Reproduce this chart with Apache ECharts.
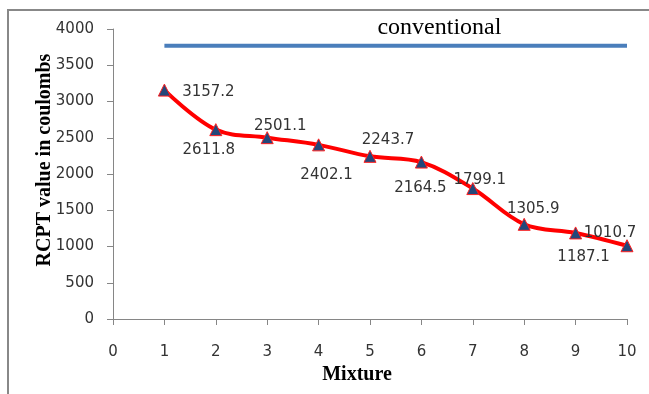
<!DOCTYPE html>
<html>
<head>
<meta charset="utf-8">
<script src="https://cdn.jsdelivr.net/npm/echarts@6/dist/echarts.min.js"></script>
<style>html,body{margin:0;padding:0;background:#fff;}#c{width:649px;height:394px;}</style>
</head>
<body>
<div id="c"></div>
<script>
const mixtures = [1, 2, 3, 4, 5, 6, 7, 8, 9, 10];
const rcptValues = [3157.2, 2611.8, 2501.1, 2402.1, 2243.7, 2164.5, 1799.1, 1305.9, 1187.1, 1010.7];
const conventionalX = [1, 10];
const conventionalValue = 3770;
const conventionalLabel = 'conventional';
const xTitle = 'Mixture';
const yTitle = 'RCPT value in coulombs';

// label placement (style only)
const labelOffsets = [[44,2],[-7,20],[13,-12],[8,30],[18,-16],[-1,26],[7,-8],[9,-15],[8,24],[-17,-13]];

const chart = echarts.init(document.getElementById('c'), null, {renderer: 'canvas'});
const labelFont = 'DejaVu Sans';
const axisCol = '#868686';

const frame = {
  type: 'polyline',
  shape: {points: [[8, 394], [8, 10], [649, 10]]},
  style: {stroke: '#888', lineWidth: 2, fill: null},
  silent: true
};
const yTitleText = {
  type: 'text',
  x: 45, y: 160, rotation: Math.PI / 2,
  style: {text: yTitle, fontFamily: 'Liberation Serif', fontWeight: 'bold', fontSize: 20, fill: '#000', align: 'center', verticalAlign: 'middle'},
  silent: true
};

const option = {
  animation: false,
  backgroundColor: '#fff',
  grid: {left: 113, right: 22, top: 29, bottom: 75},
  xAxis: {
    type: 'value', min: 0, max: 10, interval: 1,
    name: xTitle, nameLocation: 'middle', nameGap: 46,
    nameTextStyle: {fontFamily: 'Liberation Serif', fontWeight: 'bold', fontSize: 20, color: '#000', padding: [0, 26, 0, 0]},
    axisLine: {show: true, lineStyle: {color: axisCol, width: 1}},
    axisTick: {show: true, length: 6, lineStyle: {color: axisCol}},
    axisLabel: {margin: 26, fontFamily: labelFont, fontSize: 15, color: '#333', formatter: v => String(v)},
    splitLine: {show: false}
  },
  yAxis: {
    type: 'value', min: 0, max: 4000, interval: 500,
    axisLine: {show: true, lineStyle: {color: axisCol, width: 1}},
    axisTick: {show: true, length: 6, lineStyle: {color: axisCol}},
    axisLabel: {margin: 19, fontFamily: labelFont, fontSize: 15, color: '#333', formatter: v => String(v)},
    splitLine: {show: false}
  },
  series: [
    {
      type: 'line',
      data: conventionalX.map(x => [x, conventionalValue]),
      showSymbol: false,
      symbol: 'none',
      lineStyle: {color: '#4a7ebb', width: 4},
      z: 2
    },
    {
      type: 'line',
      smooth: 0.35,
      data: mixtures.map((m, i) => ({
        value: [m, rcptValues[i]],
        label: {offset: labelOffsets[i]}
      })),
      symbol: 'triangle',
      symbolSize: 12,
      itemStyle: {color: '#23477a', borderColor: '#ff2020', borderWidth: 1},
      lineStyle: {color: '#ff0000', width: 4},
      label: {
        show: true, position: 'inside',
        fontFamily: labelFont, fontSize: 15, color: '#333',
        formatter: p => String(p.value[1].toFixed(1))
      },
      z: 3
    }
  ],
  graphic: [frame, yTitleText]
};
chart.setOption(option);

const pos = chart.convertToPixel({gridIndex: 0}, [6.35, conventionalValue]);
chart.setOption({
  graphic: [
    frame,
    yTitleText,
    {
      type: 'text',
      x: pos[0], y: pos[1] - 6,
      style: {text: conventionalLabel, fontFamily: 'Liberation Serif', fontSize: 24, fill: '#000', align: 'center', verticalAlign: 'bottom'},
      silent: true
    }
  ]
});
</script>
</body>
</html>
